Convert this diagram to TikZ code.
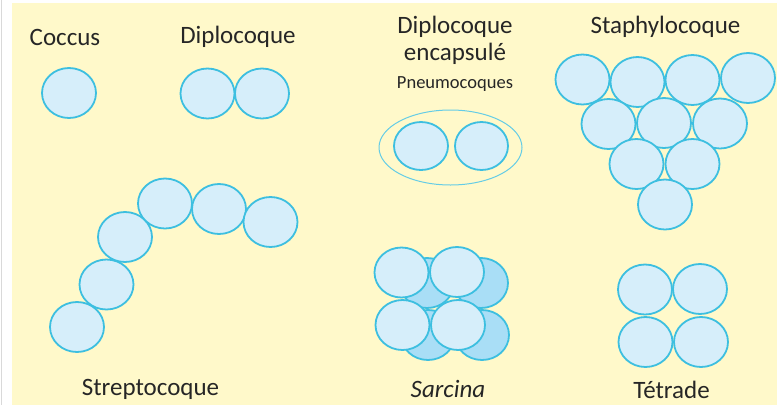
\documentclass[tikz,border=0pt]{standalone}
\usepackage{fontspec}
\setmainfont{Carlito}
\usepackage{tikz}
\usetikzlibrary{shapes.geometric}

\definecolor{paper}{HTML}{FFF9CA}
\definecolor{cellfill}{HTML}{D6EEFA}
\definecolor{cellback}{HTML}{A9DEF6}
\definecolor{cellline}{HTML}{3DBFE0}
\definecolor{caption}{HTML}{262626}

\tikzset{
	cell/.style={ellipse, draw=cellline, fill=cellfill, line width=1.8pt,
		minimum width=54pt, minimum height=50pt, inner sep=0pt},
	backcell/.style={cell, fill=cellback},
	title/.style={text=caption, font=\fontsize{25}{29}\selectfont, inner sep=0pt},
	subtitle/.style={text=caption, font=\fontsize{18.5}{22}\selectfont, inner sep=0pt}
}

\begin{document}
\begin{tikzpicture}[x=1pt, y=-1pt]
				\useasboundingbox (0,0) rectangle (777,405);
				\fill[white] (0,0) rectangle (777,405);
				\draw[line width=1.5pt, black!15] (1.5,0) -- (1.5,405);
				\fill[paper] (12,3) rectangle (777,405);
				\node[title] (coccus) at(65,37){Coccus};
				\node[title] (diplo) at(238,37){Diplocoque};
				\node[title] (encaps1) at(455,27){Diplocoque};
				\node[title] (encaps2) at(455,54){encapsulé};
				\node[subtitle] (pneumo) at(455,84){Pneumocoques};
				\node[title] (staph) at(665.5,27){Staphylocoque};
				\node[title] (strep) at(150.5,389){Streptocoque};
				\node[title, font=\fontsize{25}{29}\selectfont\itshape] (sarcina) at(448,389){Sarcina};
				\node[title] (tetrade) at(671.5,390){Tétrade};
				\node[cell] (c1) at(69,93){};
				\node[cell] (d1) at(207.5,93.5){};
				\node[cell] (d2) at(262,93.5){};
				\node[ellipse, draw=cellline!80, line width=1pt,
				minimum width=143pt,
				minimum height=75pt] (capsule) at(450.5,147.5){};
				\node[cell, minimum height=48pt] (p1) at(421,146){};
				\node[cell, minimum width=53pt, minimum height=48pt] (p2) at(481.5,146){};
				\node[cell] (s1) at(582.5,79.5){};
				\node[cell] (s2) at(637.5,82){};
				\node[cell] (s3) at(692.5,80){};
				\node[cell] (s4) at(748,78){};
				\node[cell] (s5) at(608.5,124){};
				\node[cell] (s6) at(664,123){};
				\node[cell] (s7) at(720,123.5){};
				\node[cell] (s8) at(636.5,164){};
				\node[cell] (s9) at(692.5,164){};
				\node[cell] (s10) at(665,204.5){};
				\node[cell] (st1) at(77,327){};
				\node[cell] (st2) at(106.5,284.5){};
				\node[cell] (st3) at(125,237){};
				\node[cell] (st4) at(165,203.5){};
				\node[cell] (st5) at(219,209){};
				\node[cell] (st6) at(270.5,222){};
				\node[backcell] (sb1) at(427,283){};
				\node[backcell] (sb2) at(481,283){};
				\node[backcell] (sb3) at(428,335){};
				\node[backcell] (sb4) at(482,335){};
				\node[cell] (sf1) at(401.5,272.5){};
				\node[cell] (sf2) at(457,272){};
				\node[cell] (sf3) at(402.5,325){};
				\node[cell] (sf4) at(458,325){};
				\node[cell] (t1) at(645,289.5){};
				\node[cell] (t2) at(700,289){};
				\node[cell] (t3) at(645.5,342){};
				\node[cell] (t4) at(701,342){};
			\end{tikzpicture}
\end{document}
